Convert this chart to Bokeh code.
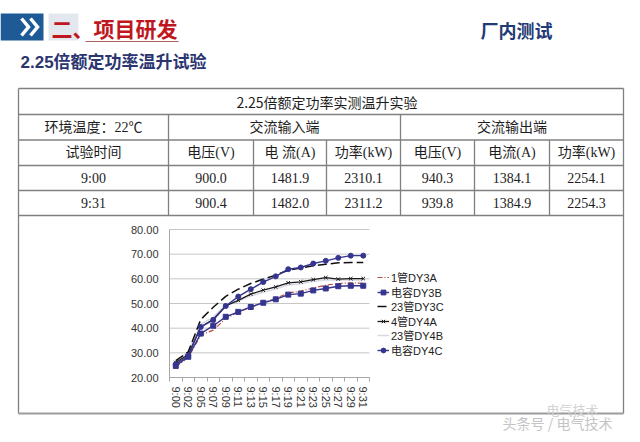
from bokeh.plotting import figure
from bokeh.models import Range1d, LinearAxis, FixedTicker, PrintfTickFormatter, Legend, LegendItem
from bokeh.core.properties import value
from bokeh.embed import file_html
from bokeh.resources import INLINE

# ---------------- data ----------------
times = ["9:00", "9:02", "9:05", "9:07", "9:09", "9:11", "9:13", "9:15",
         "9:17", "9:19", "9:21", "9:23", "9:25", "9:27", "9:29", "9:31"]
series_names = ["1管DY3A", "电容DY3B", "23管DY3C", "4管DY4A", "23管DY4B", "电容DY4C"]
dy3a = [24.3, 28.1, 37.2, 39.2, 43.9, 46.6, 48.4, 50.3, 52.0, 54.3, 55.0, 56.3, 57.4, 58.1, 58.4, 58.2]
dy3b = [24.7, 28.4, 37.8, 41.0, 44.6, 46.6, 48.6, 50.3, 51.7, 53.6, 54.0, 55.3, 56.1, 57.0, 57.2, 57.2]
dy3c = [26.8, 30.4, 43.5, 48.5, 52.9, 55.8, 58.1, 59.9, 61.5, 63.5, 64.4, 65.3, 65.9, 66.5, 66.6, 66.6]
dy4a = [26.1, 29.3, 40.5, 43.6, 49.0, 51.3, 53.8, 55.4, 56.7, 58.4, 58.8, 59.7, 60.5, 59.9, 60.1, 60.1]
dy4b = [26.5, 30.5, 41.5, 44.5, 49.5, 51.0, 53.0, 54.5, 56.0, 57.5, 58.0, 59.0, 59.5, 59.5, 59.5, 59.5]
dy4c = [25.4, 28.8, 40.5, 43.3, 49.0, 52.8, 55.8, 58.7, 61.0, 63.9, 64.6, 66.2, 67.3, 68.5, 69.4, 69.4]
y_ticks = [20, 30, 40, 50, 60, 70, 80]

page_title = "二、项目研发"
page_tag = "厂内测试"
section_title = "2.25倍额定功率温升试验"
table_title = "2.25倍额定功率实测温升实验"
env_label = "环境温度：22℃"
side_labels = ["交流输入端", "交流输出端"]
col_headers = ["试验时间", "电压(V)", "电 流(A)", "功率(kW)", "电压(V)", "电流(A)", "功率(kW)"]
row_times = ["9:00", "9:31"]
in_voltage = [900.0, 900.4]
in_current = [1481.9, 1482.0]
in_power = [2310.1, 2311.2]
out_voltage = [940.3, 939.8]
out_current = [1384.1, 1384.9]
out_power = [2254.1, 2254.3]
watermark_top = "电气技术"
watermark = "头条号 / 电气技术"

# ---------------- layout ----------------
W, H = 632, 434

SANS = "Liberation Sans, Noto Sans CJK SC"
SERIF = "Liberation Serif, Noto Sans CJK SC"
CJK = "Noto Sans CJK SC"

p = figure(width=W, height=H, output_backend="svg", toolbar_location=None,
           x_range=Range1d(0, W), y_range=Range1d(H, 0),
           x_axis_type=None, y_axis_type=None, min_border=0,
           outline_line_color=None, background_fill_color="white",
           border_fill_color="white")


def txt(x, y, s, size, color, font, bold=False, align="left"):
    p.text(x=[x], y=[y], text=[s], text_font=value(font), text_font_size=size,
           text_font_style="bold" if bold else "normal", text_color=color,
           text_align=align, text_baseline="middle")


# ---------------- header ----------------
p.quad(left=0, right=43, top=13, bottom=40, fill_color="#1d5a96", line_color=None)
p.multi_line(xs=[[21, 28, 21], [30, 37, 30]], ys=[[18, 26.5, 35], [18, 26.5, 35]],
             line_color="white", line_width=3.5, line_join="miter")
p.quad(left=48, right=78, top=13, bottom=40, fill_color="#e3e8ee", line_color=None)
txt(51, 27, page_title, "21px", "#c0171f", CJK, bold=True)
p.segment(x0=[85], x1=[178], y0=[41], y1=[41], line_color="#a86060", line_width=1)
txt(516, 29, page_tag, "18px", "#243a75", CJK, bold=True, align="center")
txt(20, 62, section_title, "17px", "#2b3570", SANS, bold=True)

# ---------------- table ----------------
row_lines = [88, 114, 139.5, 165, 190, 215]
col_edges = [18, 168, 253, 326, 400, 474, 549, 623]
LINE = "#808080"
p.segment(x0=[col_edges[0]] * len(row_lines), x1=[col_edges[-1]] * len(row_lines),
          y0=row_lines, y1=row_lines, line_color=LINE, line_width=1.3)
p.segment(x0=[18, 623], x1=[18, 623], y0=[88, 88], y1=[413, 413], line_color=LINE, line_width=1.3)
p.segment(x0=[18], x1=[623], y0=[413], y1=[413], line_color="#9c9c9c", line_width=2.2)
p.segment(x0=[168, 400], x1=[168, 400], y0=[114] * 2, y1=[215] * 2, line_color=LINE, line_width=1.3)
inner = [253, 326, 474, 549]
p.segment(x0=inner, x1=inner, y0=[139.5] * 4, y1=[215] * 4, line_color=LINE, line_width=1.3)

rc = [(row_lines[i] + row_lines[i + 1]) / 2 for i in range(len(row_lines) - 1)]
cc = [(col_edges[i] + col_edges[i + 1]) / 2 for i in range(len(col_edges) - 1)]
TC = "#1e1e1e"
FS = "14px"
txt((col_edges[0] + col_edges[-1]) / 2 + 6, rc[0], table_title, FS, TC, CJK, align="center")
txt(cc[0], rc[1], env_label, FS, TC, SERIF, align="center")
txt((168 + 400) / 2, rc[1], side_labels[0], FS, TC, SERIF, align="center")
txt((400 + 623) / 2, rc[1], side_labels[1], FS, TC, SERIF, align="center")
for j, h in enumerate(col_headers):
    txt(cc[j], rc[2], h, FS, TC, SERIF, align="center")
for i in range(len(row_times)):
    vals = [row_times[i]] + ["%.1f" % v for v in (in_voltage[i], in_current[i], in_power[i],
                                                   out_voltage[i], out_current[i], out_power[i])]
    for j, s in enumerate(vals):
        txt(cc[j], rc[3 + i], s, FS, TC, SERIF, align="center")

# ---------------- chart (own ranges + axes) ----------------
PLOT_L, PLOT_R = 169, 369
PLOT_T, PLOT_B = 229, 377
n = len(times)
step = (PLOT_R - PLOT_L) / n
x0px = PLOT_L + step / 2
ymin, ymax = y_ticks[0], y_ticks[-1]
ppu = (PLOT_B - PLOT_T) / (ymax - ymin)
p.extra_x_ranges = {"idx": Range1d(start=-x0px / step, end=(W - x0px) / step)}
p.extra_y_ranges = {"temp": Range1d(start=ymin - (H - PLOT_B) / ppu, end=ymax + PLOT_T / ppu)}

grid_vals = y_ticks[1:]
p.segment(x0=[-0.5] * len(grid_vals), x1=[n - 0.5] * len(grid_vals), y0=grid_vals, y1=grid_vals,
          x_range_name="idx", y_range_name="temp", line_color="#c6c6c6", line_width=1)

yax = LinearAxis(y_range_name="temp", fixed_location=PLOT_L, bounds=(ymin, ymax),
                 ticker=FixedTicker(ticks=y_ticks, minor_ticks=[]),
                 formatter=PrintfTickFormatter(format="%.2f"),
                 major_tick_out=0, major_tick_in=0, minor_tick_out=0, minor_tick_in=0,
                 major_label_standoff=11, axis_line_color="#a6a6a6",
                 major_label_text_font_size="11px", major_label_text_font="Liberation Sans",
                 major_label_text_color="#333333")
p.add_layout(yax, "left")

xs = list(range(n))
xax = LinearAxis(x_range_name="idx", fixed_location=PLOT_B, bounds=(-0.5, n - 0.5),
                 ticker=FixedTicker(ticks=xs, minor_ticks=[i - 0.5 for i in range(n + 1)]),
                 major_label_overrides={i: t for i, t in enumerate(times)},
                 major_label_orientation="vertical",
                 major_tick_out=0, major_tick_in=0, minor_tick_out=4, minor_tick_in=0,
                 minor_tick_line_color="#a6a6a6", major_label_standoff=5,
                 axis_line_color="#a6a6a6",
                 major_label_text_font_size="11px", major_label_text_font="Liberation Sans",
                 major_label_text_color="#333333")
p.add_layout(xax, "below")

kw = dict(x_range_name="idx", y_range_name="temp")
NAVY = "#35358f"
r4b = p.line(xs, dy4b, line_color="#d9d9e6", line_width=1.5, **kw)
r3a = p.line(xs, dy3a, line_color="#b84a40", line_width=1.2, line_dash="5 2 1 2", **kw)
r3b = p.line(xs, dy3b, line_color=NAVY, line_width=1.4, **kw)
m3b = p.scatter(xs, dy3b, marker="square", size=5, fill_color=NAVY, line_color=NAVY, **kw)
r4a = p.line(xs, dy4a, line_color="#1a1a1a", line_width=1.3, **kw)
m4a = p.scatter(xs, dy4a, marker="x", size=5, line_color="#1a1a1a", line_width=1, **kw)
r3c = p.line(xs, dy3c, line_color="#111111", line_width=1.5, line_dash="9 4", **kw)
r4c = p.line(xs, dy4c, line_color=NAVY, line_width=1.4, **kw)
m4c = p.scatter(xs, dy4c, marker="circle", size=5, fill_color=NAVY, line_color=NAVY, **kw)

legend_renderers = [[r3a], [r3b, m3b], [r3c], [r4a, m4a], [r4b], [r4c, m4c]]
LEG_X, LEG_Y0, LEG_DY, LEG_H = 377, 277, 14.6, 18
for i, (name, rs) in enumerate(zip(series_names, legend_renderers)):
    cy = LEG_Y0 + LEG_DY * i
    lg = Legend(items=[LegendItem(label=name, renderers=rs)],
                location=(LEG_X, H - (cy + LEG_H / 2)), padding=0, margin=0, spacing=0,
                label_height=LEG_H, glyph_height=LEG_H, glyph_width=12, label_standoff=2,
                border_line_color=None, background_fill_alpha=0,
                label_text_font_size="11px", label_text_font=SANS, label_text_color="#222222")
    p.add_layout(lg)

# ---------------- watermark ----------------
txt(572, 409, watermark_top, "13px", "#d2d2d2", CJK, align="center")
txt(557, 422, watermark, "14px", "#c4c4c4", CJK, align="center")

open("out.html", "w").write(file_html(p, INLINE))
